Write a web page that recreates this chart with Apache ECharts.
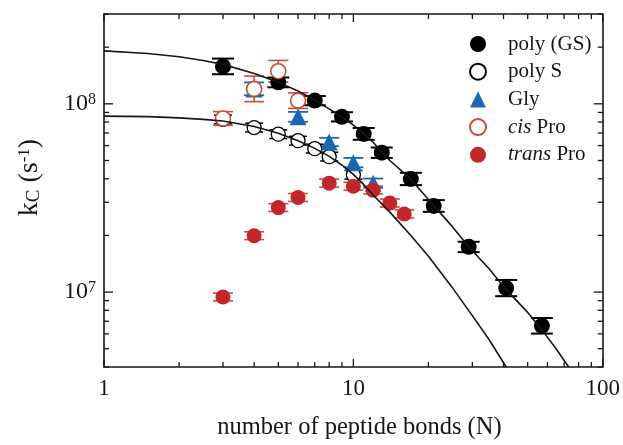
<!DOCTYPE html>
<html>
<head>
<meta charset="utf-8">
<script src="https://cdn.jsdelivr.net/npm/echarts@6/dist/echarts.min.js"></script>
<style>html,body{margin:0;padding:0;background:#fff;}#c{width:623px;height:445px;}</style>
</head>
<body>
<div id="c"></div>
<script>
// ---- data ----
const N_GS = [3, 5, 7, 9, 11, 13, 17, 21, 29, 41, 57];
const K_GS = [1.58e8, 1.30e8, 1.04e8, 8.53e7, 6.92e7, 5.50e7, 3.99e7, 2.87e7, 1.74e7, 1.05e7, 6.62e6];
const K_GS_LO = [1.436e8, 1.224e8, 9.83e7, 8.06e7, 6.44e7, 5.16e7, 3.70e7, 2.67e7, 1.63e7, 9.51e6, 6.02e6];
const K_GS_HI = [1.739e8, 1.380e8, 1.10e8, 9.02e7, 7.44e7, 5.86e7, 4.30e7, 3.08e7, 1.85e7, 1.16e7, 7.28e6];

const N_S = [3, 4, 5, 6, 7, 8, 10];
const K_S = [8.26e7, 7.48e7, 6.90e7, 6.37e7, 5.78e7, 5.24e7, 4.20e7];
const K_S_LO = [7.83e7, 7.09e7, 6.54e7, 6.04e7, 5.48e7, 4.97e7, 3.98e7];
const K_S_HI = [8.71e7, 7.89e7, 7.28e7, 6.72e7, 6.10e7, 5.53e7, 4.43e7];

const N_GLY = [4, 6, 8, 10, 12];
const K_GLY = [1.20e8, 8.53e7, 6.27e7, 4.87e7, 3.79e7];
const K_GLY_LO = [1.11e8, 8.03e7, 5.95e7, 4.60e7, 3.58e7];
const K_GLY_HI = [1.30e8, 9.06e7, 6.60e7, 5.16e7, 4.01e7];

const N_CIS = [3, 4, 5, 6];
const K_CIS = [8.36e7, 1.20e8, 1.49e8, 1.04e8];
const K_CIS_LO = [7.69e7, 1.027e8, 1.306e8, 9.45e7];
const K_CIS_HI = [9.09e7, 1.403e8, 1.70e8, 1.144e8];

const N_TRANS = [3, 4, 5, 6, 8, 10, 12, 14, 16];
const K_TRANS = [9.42e6, 1.99e7, 2.81e7, 3.18e7, 3.79e7, 3.65e7, 3.48e7, 2.97e7, 2.60e7];
const K_TRANS_LO = [8.98e6, 1.90e7, 2.68e7, 3.03e7, 3.61e7, 3.48e7, 3.32e7, 2.83e7, 2.48e7];
const K_TRANS_HI = [9.88e6, 2.09e7, 2.95e7, 3.34e7, 3.98e7, 3.83e7, 3.65e7, 3.12e7, 2.73e7];

// fitted curves
const FIT1_N = [1, 1.5, 2, 2.5, 3, 4, 5, 6, 7, 8, 9, 10, 11, 12, 13, 14, 17, 20, 21, 25, 29, 35, 41, 50, 57, 65, 73];
const FIT1_K = [1.91e8, 1.85e8, 1.78e8, 1.70e8, 1.62e8, 1.45e8, 1.30e8, 1.17e8, 1.045e8, 9.4e7, 8.5e7, 7.7e7, 6.95e7, 6.25e7, 5.55e7, 5.0e7, 3.98e7, 3.1e7, 2.88e7, 2.22e7, 1.74e7, 1.33e7, 1.03e7, 7.8e6, 6.3e6, 5.0e6, 4.0e6];
const FIT2_N = [1, 1.5, 2, 2.5, 3, 4, 5, 6, 7, 8, 9, 10, 11, 12, 14, 17, 20, 25, 30, 35, 41];
const FIT2_K = [8.6e7, 8.55e7, 8.42e7, 8.27e7, 8.1e7, 7.58e7, 6.97e7, 6.37e7, 5.8e7, 5.26e7, 4.72e7, 4.22e7, 3.72e7, 3.28e7, 2.66e7, 2.0e7, 1.55e7, 1.05e7, 7.5e6, 5.6e6, 4.0e6];

// axes
const X_MIN = 1, X_MAX = 100;
const Y_MIN = 4e6, Y_MAX = 3e8;
const X_MAJOR = [1, 10, 100];
const X_MAJOR_LABELS = ['1', '10', '100'];
const X_MINOR = [2, 3, 4, 5, 6, 7, 8, 9, 20, 30, 40, 50, 60, 70, 80, 90];
const Y_MAJOR = [1e7, 1e8];
const Y_MAJOR_EXP = ['7', '8'];
const Y_MINOR = [4e6, 5e6, 6e6, 7e6, 8e6, 9e6, 2e7, 3e7, 4e7, 5e7, 6e7, 7e7, 8e7, 9e7, 2e8, 3e8];

const SERIES_NAMES = ['poly (GS)', 'poly S', 'Gly', 'cis Pro', 'trans Pro'];

// ---- chart ----
const FONT = 'Liberation Serif';
const INK = '#161616';
const BLUE = '#1b67b4';
const RED = '#c0262b';
const RED_LIGHT = '#cf4a3a';

function zip2(a, b) { return a.map((v, i) => [v, b[i]]); }
function zip3(a, b, c) { return a.map((v, i) => [v, b[i], c[i]]); }

function errRender(color, cap, lw) {
  return function (params, api) {
    const x = api.value(0), lo = api.value(1), hi = api.value(2);
    const pLo = api.coord([x, lo]), pHi = api.coord([x, hi]);
    const h = cap / 2;
    const st = { stroke: color, lineWidth: lw };
    return { type: 'group', children: [
      { type: 'line', shape: { x1: pLo[0], y1: pLo[1], x2: pHi[0], y2: pHi[1] }, style: st },
      { type: 'line', shape: { x1: pLo[0] - h, y1: pLo[1], x2: pLo[0] + h, y2: pLo[1] }, style: st },
      { type: 'line', shape: { x1: pHi[0] - h, y1: pHi[1], x2: pHi[0] + h, y2: pHi[1] }, style: st }
    ]};
  };
}
function errSeries(name, n, lo, hi, color, cap, lw) {
  return { type: 'custom', name: name, renderItem: errRender(color, cap, lw),
    data: zip3(n, lo, hi), encode: { x: 0, y: [1, 2] }, silent: true };
}

function xTickRender(len) {
  return function (params, api) {
    const cs = params.coordSys;
    const px = api.coord([api.value(0), api.value(1)])[0];
    const st = { stroke: INK, lineWidth: 1.3 };
    return { type: 'group', children: [
      { type: 'line', shape: { x1: px, y1: cs.y + cs.height, x2: px, y2: cs.y + cs.height - len }, style: st },
      { type: 'line', shape: { x1: px, y1: cs.y, x2: px, y2: cs.y + len }, style: st }
    ]};
  };
}
function yTickRender(len) {
  return function (params, api) {
    const cs = params.coordSys;
    const py = api.coord([api.value(0), api.value(1)])[1];
    const st = { stroke: INK, lineWidth: 1.3 };
    return { type: 'group', children: [
      { type: 'line', shape: { x1: cs.x, y1: py, x2: cs.x + len, y2: py }, style: st },
      { type: 'line', shape: { x1: cs.x + cs.width, y1: py, x2: cs.x + cs.width - len, y2: py }, style: st }
    ]};
  };
}

const axisLineStyle = { show: true, lineStyle: { color: INK, width: 1.6 } };

const chart = echarts.init(document.getElementById('c'), null, { renderer: 'canvas' });
chart.setOption({
  animation: false,
  backgroundColor: '#fff',
  grid: { left: 104, top: 14, right: 18, bottom: 71.7, containLabel: false },
  legend: {
    data: SERIES_NAMES,
    orient: 'vertical',
    left: 464, top: 28,
    itemWidth: 16, itemHeight: 16, itemGap: 5.7,
    formatter: function (name) {
      if (name === 'cis Pro') return '{i|cis} Pro';
      if (name === 'trans Pro') return '{i|trans} Pro';
      return name;
    },
    textStyle: { fontFamily: FONT, fontSize: 21, color: INK, lineHeight: 22, padding: [0, 0, 0, 17],
      rich: { i: { fontFamily: FONT, fontSize: 21, fontStyle: 'italic', color: INK } } }
  },
  xAxis: [
    { type: 'log', logBase: 10, min: X_MIN, max: X_MAX, position: 'bottom',
      axisLine: axisLineStyle, axisTick: { show: false }, splitLine: { show: false },
      axisLabel: { fontFamily: FONT, fontSize: 23, color: INK, margin: 10,
        formatter: function (v) {
          for (let i = 0; i < X_MAJOR.length; i++) if (Math.abs(Math.log10(v) - Math.log10(X_MAJOR[i])) < 1e-6) return X_MAJOR_LABELS[i];
          return '';
        } },
      name: 'number of peptide bonds (N)', nameLocation: 'middle', nameGap: 48,
      nameTextStyle: { fontFamily: FONT, fontSize: 24.5, color: INK, padding: [0, 0, 0, 12] } },
    { type: 'log', logBase: 10, min: X_MIN, max: X_MAX, position: 'top',
      axisLine: axisLineStyle, axisTick: { show: false }, splitLine: { show: false }, axisLabel: { show: false } }
  ],
  yAxis: [
    { type: 'log', logBase: 10, min: Y_MIN, max: Y_MAX, position: 'left',
      axisLine: axisLineStyle, axisTick: { show: false }, splitLine: { show: false },
      axisLabel: { fontFamily: FONT, fontSize: 24, color: INK, margin: 8,
        formatter: function (v) {
          for (let i = 0; i < Y_MAJOR.length; i++) if (Math.abs(Math.log10(v) - Math.log10(Y_MAJOR[i])) < 1e-6) return '{b|10}{s|' + Y_MAJOR_EXP[i] + '}';
          return '';
        },
        rich: { b: { fontFamily: FONT, fontSize: 24, color: INK }, s: { fontFamily: FONT, fontSize: 16, color: INK, verticalAlign: 'top' } } },
      name: 'k{sub|C} (s{sup|-1})', nameLocation: 'middle', nameGap: 60,
      nameTextStyle: { fontFamily: FONT, fontSize: 28, color: INK, padding: [0, 0, 0, 26],
        rich: { sub: { fontFamily: FONT, fontSize: 19, color: INK, verticalAlign: 'bottom' },
                sup: { fontFamily: FONT, fontSize: 17, color: INK, verticalAlign: 'top' } } } },
    { type: 'log', logBase: 10, min: Y_MIN, max: Y_MAX, position: 'right',
      axisLine: axisLineStyle, axisTick: { show: false }, splitLine: { show: false }, axisLabel: { show: false } }
  ],
  series: [
    { type: 'custom', name: 'xMajorTicks', renderItem: xTickRender(8), data: X_MAJOR.map(v => [v, 1e7]), silent: true, z: 5 },
    { type: 'custom', name: 'xMinorTicks', renderItem: xTickRender(5), data: X_MINOR.map(v => [v, 1e7]), silent: true, z: 5 },
    { type: 'custom', name: 'yMajorTicks', renderItem: yTickRender(9), data: Y_MAJOR.map(v => [10, v]), silent: true, z: 5 },
    { type: 'custom', name: 'yMinorTicks', renderItem: yTickRender(5), data: Y_MINOR.map(v => [10, v]), silent: true, z: 5 },
    { type: 'line', name: 'fit1', data: zip2(FIT1_N, FIT1_K), showSymbol: false, smooth: false,
      lineStyle: { color: INK, width: 1.6 }, silent: true },
    { type: 'line', name: 'fit2', data: zip2(FIT2_N, FIT2_K), showSymbol: false, smooth: false,
      lineStyle: { color: INK, width: 1.6 }, silent: true },
    errSeries('errGS', N_GS, K_GS_LO, K_GS_HI, '#000', 22, 2),
    { type: 'scatter', name: 'poly (GS)', data: zip2(N_GS, K_GS), symbol: 'circle', symbolSize: 16,
      itemStyle: { color: '#000', opacity: 1 } },
    errSeries('errS', N_S, K_S_LO, K_S_HI, '#000', 18, 1.5),
    { type: 'scatter', name: 'poly S', data: zip2(N_S, K_S), symbol: 'circle', symbolSize: 14,
      itemStyle: { color: '#fff', borderColor: '#000', borderWidth: 1.3, opacity: 1 } },
    errSeries('errGly', N_GLY, K_GLY_LO, K_GLY_HI, BLUE, 20, 1.8),
    { type: 'scatter', name: 'Gly', data: zip2(N_GLY, K_GLY), symbol: 'triangle', symbolSize: 17,
      itemStyle: { color: BLUE, opacity: 1 } },
    errSeries('errCis', N_CIS, K_CIS_LO, K_CIS_HI, RED_LIGHT, 20, 1.6),
    { type: 'scatter', name: 'cis Pro', data: zip2(N_CIS, K_CIS), symbol: 'circle', symbolSize: 15,
      itemStyle: { color: '#fff', borderColor: RED_LIGHT, borderWidth: 1.6, opacity: 1 } },
    errSeries('errTrans', N_TRANS, K_TRANS_LO, K_TRANS_HI, RED_LIGHT, 20, 1.6),
    { type: 'scatter', name: 'trans Pro', data: zip2(N_TRANS, K_TRANS), symbol: 'circle', symbolSize: 15,
      itemStyle: { color: RED, opacity: 1 } }
  ]
});
</script>
</body>
</html>
